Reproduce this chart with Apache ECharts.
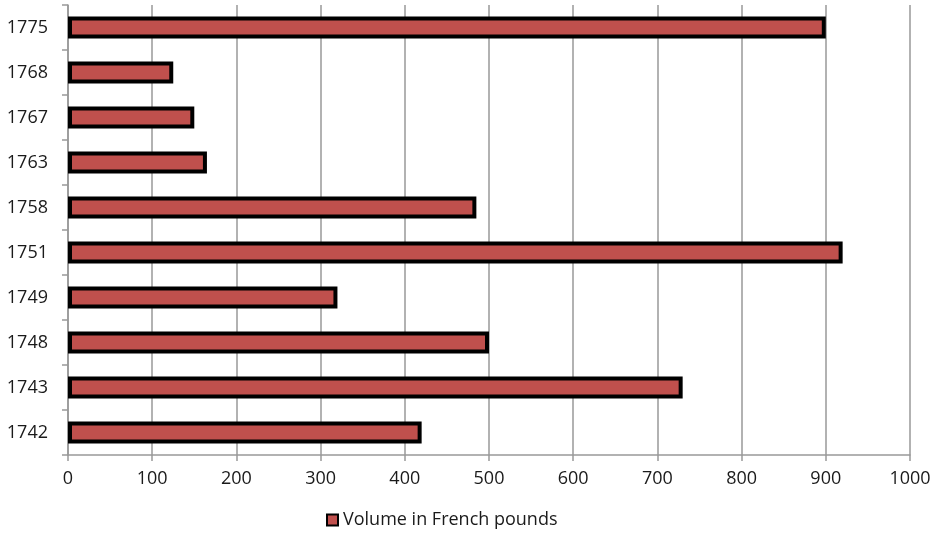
<!DOCTYPE html>
<html>
<head>
<meta charset="utf-8">
<script src="https://cdn.jsdelivr.net/npm/echarts@6/dist/echarts.min.js"></script>
<style>
  html, body { margin: 0; padding: 0; background: #fff; }
  #chart { width: 939px; height: 535px; }
</style>
</head>
<body>
<div id="chart"></div>
<script>
// Years listed bottom-to-top on the category axis
const years = ['1742', '1743', '1748', '1749', '1751', '1758', '1763', '1767', '1768', '1775'];
const volumes = [420, 730, 500, 320, 920, 485, 165, 150, 125, 900];
const seriesName = 'Volume in French pounds';
const xTicks = [0, 100, 200, 300, 400, 500, 600, 700, 800, 900, 1000];

const chart = echarts.init(document.getElementById('chart'), null, { renderer: 'canvas' });
const font = '"Open Sans", "Noto Sans", sans-serif';
const textColor = '#1a1a1a';

chart.setOption({
  animation: false,
  grid: { left: 68, right: 29, top: 5, bottom: 80, containLabel: false },
  legend: {
    bottom: 1,
    left: 321,
    data: [seriesName],
    icon: 'rect',
    itemWidth: 11,
    itemHeight: 11,
    itemGap: 3,
    textStyle: { fontFamily: font, fontSize: 18, color: textColor }
  },
  xAxis: {
    type: 'value',
    min: xTicks[0],
    max: xTicks[xTicks.length - 1],
    interval: 100,
    axisLine: { show: true, lineStyle: { color: '#999', width: 1.5 } },
    axisTick: { show: true, length: 6, lineStyle: { color: '#999', width: 1.5 } },
    axisLabel: { fontFamily: font, fontSize: 18, color: textColor, margin: 15, formatter: v => String(v) },
    splitLine: { show: true, lineStyle: { color: '#999', width: 1.5 } }
  },
  yAxis: {
    type: 'category',
    data: years,
    axisLine: { show: true, lineStyle: { color: '#999', width: 1.5 } },
    axisTick: { show: true, length: 6, lineStyle: { color: '#999', width: 1.5 } },
    axisLabel: { fontFamily: font, fontSize: 18, color: textColor, margin: 20 },
    splitLine: { show: false }
  },
  series: [{
    name: seriesName,
    type: 'bar',
    data: volumes,
    barWidth: 22,
    itemStyle: { color: '#C0504D', borderColor: '#000', borderWidth: 4 }
  }]
});
</script>
</body>
</html>
